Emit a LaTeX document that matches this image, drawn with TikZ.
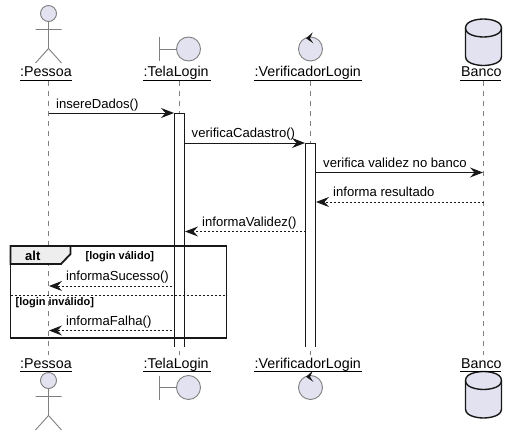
\documentclass[tikz,border=0pt]{standalone}
\usepackage{fontspec}
\setmainfont{Liberation Sans}
\usetikzlibrary{arrows.meta}
\definecolor{partfill}{HTML}{E2E2F0}
\definecolor{partline}{HTML}{808080}
\definecolor{inkline}{HTML}{181818}
\definecolor{tabfill}{HTML}{EEEEEE}
\tikzset{
  x=1pt,y=-1pt,
  pname/.style={inner sep=0pt,anchor=base west,font=\fontsize{14.25}{16}\selectfont,text=black},
  pline/.style={draw=black,line width=0.8pt},
  lifeline/.style={draw=partline,line width=0.8pt,dash pattern=on 5pt off 5pt},
  glyph/.style={draw=partline,line width=0.9pt},
  glyphfill/.style={draw=partline,fill=partfill,line width=0.9pt},
  dbshape/.style={draw=inkline,fill=partfill,line width=1.4pt},
  activation/.style={draw=inkline,line width=1pt},
  msg/.style={draw=inkline,line width=1pt,-{Stealth[length=13pt,width=10pt,inset=4.5pt,fill=inkline]}},
  reply/.style={msg,dash pattern=on 2pt off 2pt},
  mlabel/.style={inner sep=0pt,anchor=base west,font=\fontsize{13.1}{15}\selectfont,text=black},
  frameline/.style={draw=inkline,line width=1.8pt},
  framelabel/.style={inner sep=0pt,anchor=base west,font=\fontsize{13}{15}\selectfont\bfseries,text=black},
  guard/.style={inner sep=0pt,anchor=base west,font=\fontsize{11}{13}\selectfont\bfseries,text=black},
  sepline/.style={draw=inkline,line width=0.9pt,dash pattern=on 2pt off 2pt}
}
\newcommand{\actorglyph}[2]{% x, head centre y
  \draw[glyphfill] (#1,#2) circle[radius=8];
  \draw[glyph] (#1,#2+8) -- (#1,#2+35)
     (#1-13,#2+16) -- (#1+13,#2+16)
     (#1-13,#2+49.5) -- (#1,#2+35) -- (#1+13,#2+49.5);
}
\newcommand{\boundaryglyph}[2]{% line x, centre y
  \draw[glyph] (#1,#2-12) -- (#1,#2+12) (#1,#2) -- (#1+17,#2);
  \draw[glyphfill] (#1+29,#2) circle[radius=12];
}
\newcommand{\controlglyph}[2]{% centre x, centre y
  \draw[glyphfill] (#1,#2) circle[radius=12];
  \fill[inkline] (#1+2.3,#2-16.7) -- (#1-4.5,#2-10.7) -- (#1+2.8,#2-5.7) -- (#1-0.5,#2-10.7) -- cycle;
}
\newcommand{\dbglyph}[2]{% centre x, top y
  \draw[dbshape] (#1-18,#2+9) .. controls (#1-18,#2) and (#1,#2) .. (#1,#2)
     .. controls (#1,#2) and (#1+18,#2) .. (#1+18,#2+9)
     -- (#1+18,#2+37.5) .. controls (#1+18,#2+46.5) and (#1,#2+46.5) .. (#1,#2+46.5)
     .. controls (#1,#2+46.5) and (#1-18,#2+46.5) .. (#1-18,#2+37.5) -- cycle;
  \draw[dbshape,fill=none] (#1-18,#2+9) .. controls (#1-18,#2+18) and (#1,#2+18) .. (#1,#2+18)
     .. controls (#1,#2+18) and (#1+18,#2+18) .. (#1+18,#2+9);
}
\begin{document}
\begin{tikzpicture}
\useasboundingbox (0,0) rectangle (517,436);
% lifeline ends
\coordinate (pa) at (48.5,81);  \coordinate (pb) at (48.5,355);
\coordinate (ta) at (179.5,81); \coordinate (tb) at (179.5,355);
\coordinate (va) at (310.5,81); \coordinate (vb) at (310.5,355);
\coordinate (ba) at (483.5,81); \coordinate (bb) at (483.5,355);
\draw[lifeline] (pa) -- (pb);
\draw[lifeline] (ta) -- (tb);
\draw[lifeline] (va) -- (vb);
\draw[lifeline] (ba) -- (bb);
% participant heads
\actorglyph{48.5}{13.5}
\boundaryglyph{159.5}{49}
\controlglyph{310.5}{49}
\dbglyph{483.5}{19}
\node[pname] (ptop) at (20,77) {:Pessoa};
\node[pname] (ttop) at (143.5,77) {:TelaLogin};
\node[pname] (vtop) at (254.5,77) {:VerificadorLogin};
\node[pname] (btop) at (461,77) {Banco};
\draw[pline] (20,80.5) -- (71.5,80.5) (143,80.5) -- (211,80.5) (254,80.5) -- (362,80.5) (460,80.5) -- (501,80.5);
% participant feet
\actorglyph{48.5}{380.5}
\boundaryglyph{159.5}{387.5}
\controlglyph{310.5}{387.5}
\dbglyph{483.5}{371.5}
\node[pname] (pbot) at (20,368) {:Pessoa};
\node[pname] (tbot) at (143.5,368) {:TelaLogin};
\node[pname] (vbot) at (254.5,368) {:VerificadorLogin};
\node[pname] (bbot) at (461,368) {Banco};
\draw[pline] (20,371) -- (71.5,371) (143,371) -- (211,371) (254,371) -- (362,371) (460,371) -- (501,371);
% activations
\fill[white] (174.5,113) rectangle (184.5,347);
\fill[white] (305.5,143) rectangle (315.5,347);
\draw[activation] (174.5,347) -- (174.5,113) -- (184.5,113) -- (184.5,347);
\draw[activation] (305.5,347) -- (305.5,143) -- (315.5,143) -- (315.5,347);
% messages
\coordinate (m1a) at (48.5,113);  \coordinate (m1b) at (174,113);
\coordinate (m2a) at (184.5,143); \coordinate (m2b) at (305,143);
\coordinate (m3a) at (315.5,172.5); \coordinate (m3b) at (483,172.5);
\coordinate (m4a) at (483.5,202); \coordinate (m4b) at (316,202);
\coordinate (m5a) at (305.5,231.5); \coordinate (m5b) at (185,231.5);
\coordinate (m6a) at (172,286); \coordinate (m6b) at (49,286);
\coordinate (m7a) at (172,330.5); \coordinate (m7b) at (49,330.5);
\draw[msg] (m1a) -- (m1b);
\draw[msg] (m2a) -- (m2b);
\draw[msg] (m3a) -- (m3b);
\draw[reply] (m4a) -- (m4b);
\draw[reply] (m5a) -- (m5b);
\draw[reply] (m6a) -- (m6b);
\draw[reply] (m7a) -- (m7b);
\node[mlabel] (l1) at (56,108) {insereDados()};
\node[mlabel] (l2) at (191.5,137) {verificaCadastro()};
\node[mlabel] (l3) at (323,167) {verifica validez no banco};
\node[mlabel] (l4) at (333,196.5) {informa resultado};
\node[mlabel] (l5) at (202,226) {informaValidez()};
\node[mlabel] (l6) at (66,280) {informaSucesso()};
\node[mlabel] (l7) at (66,325) {informaFalha()};
% alt frame
\draw[frameline,fill=tabfill] (10.5,246) -- (70.5,246) -- (70.5,254) -- (61,264) -- (10.5,264) -- cycle;
\draw[frameline] (10.5,246) rectangle (226.5,338);
\draw[sepline] (10.5,295.5) -- (226.5,295.5);
\node[framelabel] (altl) at (25,260) {alt};
\node[guard] (g1) at (85.5,259) {[login válido]};
\node[guard] (g2) at (15.5,305) {[login inválido]};
\end{tikzpicture}
\end{document}
